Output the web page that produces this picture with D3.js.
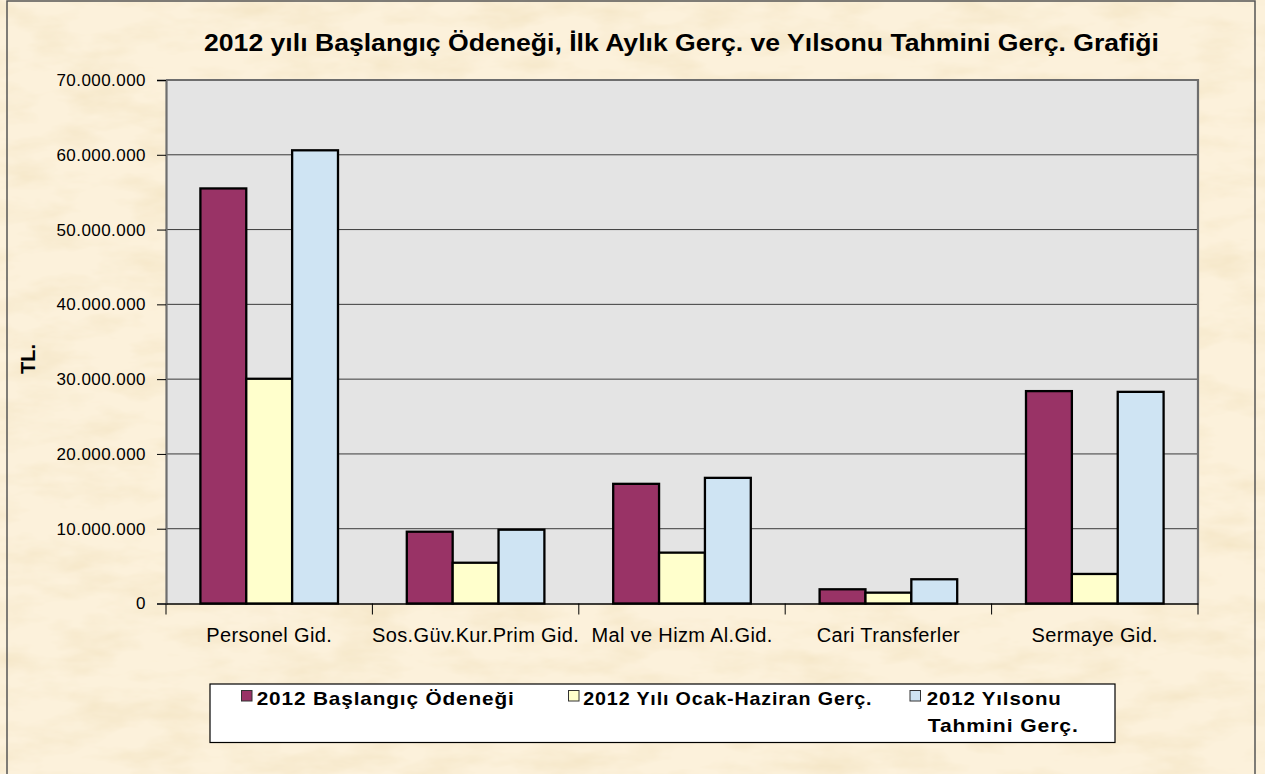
<!DOCTYPE html>
<html>
<head>
<meta charset="utf-8">
<script src="https://cdn.jsdelivr.net/npm/d3@7"></script>
<style>
  html, body { margin: 0; padding: 0; background: #FAEED6; }
  svg { display: block; }
  text { font-family: "Liberation Sans", Arial, sans-serif; }
</style>
</head>
<body>
<svg id="chart" width="1265" height="774"></svg>
<script>
const categories = ["Personel Gid.", "Sos.Güv.Kur.Prim Gid.", "Mal ve Hizm Al.Gid.", "Cari Transferler", "Sermaye Gid."];
const seriesNames = ["2012 Başlangıç Ödeneği", "2012 Yılı Ocak-Haziran Gerç.", "2012 Yılsonu Tahmini Gerç."];
const baslangic = [55500000, 9600000, 16000000, 1900000, 28400000];
const ocakHaziran = [30050000, 5450000, 6800000, 1450000, 3950000];
const yilsonu = [60600000, 9870000, 16800000, 3240000, 28300000];
const yTickValues = [0, 10000000, 20000000, 30000000, 40000000, 50000000, 60000000, 70000000];
const seriesColors = ["#993366", "#FFFFCC", "#CFE4F3"];
const titleText = "2012 yılı Başlangıç Ödeneği, İlk Aylık Gerç. ve Yılsonu Tahmini Gerç. Grafiği";
const yTitle = "TL.";

const seriesValues = [baslangic, ocakHaziran, yilsonu];
const svg = d3.select("#chart");

// parchment-like background
const defs = svg.append("defs");
const f = defs.append("filter").attr("id", "paper").attr("x", 0).attr("y", 0).attr("width", "100%").attr("height", "100%");
f.append("feTurbulence").attr("type", "fractalNoise").attr("baseFrequency", "0.015 0.04").attr("numOctaves", 4).attr("seed", 7).attr("result", "n");
f.append("feColorMatrix").attr("in", "n").attr("type", "matrix")
  .attr("values", "0 0 0 0 0.90  0 0 0 0 0.78  0 0 0 0 0.55  0 0 0 -1.6 0.95");
svg.append("rect").attr("width", 1265).attr("height", 774).attr("fill", "#FCF1DB");
svg.append("rect").attr("width", 1265).attr("height", 774).attr("filter", "url(#paper)");

// outer chart border
svg.append("rect").attr("x", 7).attr("y", 1).attr("width", 1248).attr("height", 790)
  .attr("fill", "none").attr("stroke", "#555").attr("stroke-width", 1.5);

const L = 166, R = 1198, T = 80, B = 603.5;
const x = d3.scaleBand().domain(categories).range([L, R]).paddingInner(0).paddingOuter(0);
const xs = d3.scaleBand().domain(seriesNames).range([0, x.bandwidth()]).paddingInner(0).paddingOuter(0.75);
const y = d3.scaleLinear().domain([0, 70000000]).range([B, T]);

// plot area
svg.append("rect").attr("x", L).attr("y", T).attr("width", R - L).attr("height", B - T).attr("fill", "#E4E4E4");

// gridlines
svg.append("g").selectAll("line").data(yTickValues.filter(v => v > 0)).join("line")
  .attr("x1", L).attr("x2", R).attr("y1", d => y(d)).attr("y2", d => y(d))
  .attr("stroke", "#3a3a3a").attr("stroke-width", 1);

// plot frame top/right
svg.append("path").attr("d", `M${L},${T} H${R} V${B}`).attr("fill", "none").attr("stroke", "#6e6e6e").attr("stroke-width", 2.2);

// bars
const groups = svg.append("g").selectAll("g").data(categories).join("g")
  .attr("transform", c => `translate(${x(c)},0)`);
groups.selectAll("rect").data((c, i) => seriesNames.map((s, j) => ({ s, j, v: seriesValues[j][i] }))).join("rect")
  .attr("x", d => xs(d.s)).attr("width", xs.bandwidth())
  .attr("y", d => y(d.v)).attr("height", d => y(0) - y(d.v))
  .attr("fill", d => seriesColors[d.j]).attr("stroke", "#000").attr("stroke-width", 2.3);

// y axis
const fmt = d3.formatLocale({ decimal: ",", thousands: ".", grouping: [3], currency: ["", ""] }).format(",d");
const yAxis = svg.append("g").attr("transform", `translate(${L},0)`)
  .call(d3.axisLeft(y).tickValues(yTickValues).tickFormat(fmt).tickSize(9).tickPadding(11));
yAxis.select(".domain").attr("stroke", "#6e6e6e").attr("stroke-width", 2.2);
yAxis.selectAll(".tick line").attr("stroke", "#000").attr("stroke-width", 1);
yAxis.selectAll(".tick text").attr("font-size", 17).attr("letter-spacing", 0.45).attr("fill", "#000")
  .attr("font-family", "Liberation Sans, Arial, sans-serif");

// x axis
const xAxis = svg.append("g").attr("transform", `translate(0,${B})`)
  .call(d3.axisBottom(x).tickSize(0).tickPadding(24));
xAxis.select(".domain").attr("stroke", "#000").attr("stroke-width", 1.3);
xAxis.selectAll(".tick text").attr("font-size", 20).attr("letter-spacing", 0.35).attr("fill", "#000")
  .attr("font-family", "Liberation Sans, Arial, sans-serif");
const boundaries = categories.map(c => x(c)).concat([x.range()[1]]);
svg.append("g").selectAll("line").data(boundaries).join("line")
  .attr("x1", d => d).attr("x2", d => d).attr("y1", B).attr("y2", B + 11)
  .attr("stroke", "#000").attr("stroke-width", 1);

// title
svg.append("text").attr("x", 204).attr("y", 51).attr("font-size", 23).attr("font-weight", "bold")
  .attr("textLength", 955).attr("lengthAdjust", "spacingAndGlyphs").text(titleText);

// y title
svg.append("text").attr("transform", "translate(35,359) rotate(-90)").attr("text-anchor", "middle")
  .attr("font-size", 20).attr("font-weight", "bold").text(yTitle);

// legend
const lg = svg.append("g");
lg.append("rect").attr("x", 210).attr("y", 684).attr("width", 905).attr("height", 58.5)
  .attr("fill", "#fff").attr("stroke", "#000").attr("stroke-width", 1.2);
const legendItems = [
  { sx: 241.5, tx: 256.7, lines: [seriesNames[0]], w: [258] },
  { sx: 568.5, tx: 583.3, lines: [seriesNames[1]], w: [289] },
  { sx: 910, tx: 926.7, lines: ["2012 Yılsonu", "Tahmini Gerç."], w: [135, 151] }
];
legendItems.forEach((it, i) => {
  lg.append("rect").attr("x", it.sx).attr("y", 690.5).attr("width", 10.5).attr("height", 10.5)
    .attr("fill", seriesColors[i]).attr("stroke", "#333").attr("stroke-width", 1);
  it.lines.forEach((ln, k) => {
    lg.append("text").attr("x", k === 0 ? it.tx : it.tx + 1).attr("y", 705 + k * 26.7)
      .attr("font-size", 19).attr("font-weight", "bold").attr("letter-spacing", 0.8)
      .attr("textLength", it.w[k]).attr("lengthAdjust", "spacingAndGlyphs").text(ln);
  });
});
</script>
</body>
</html>
